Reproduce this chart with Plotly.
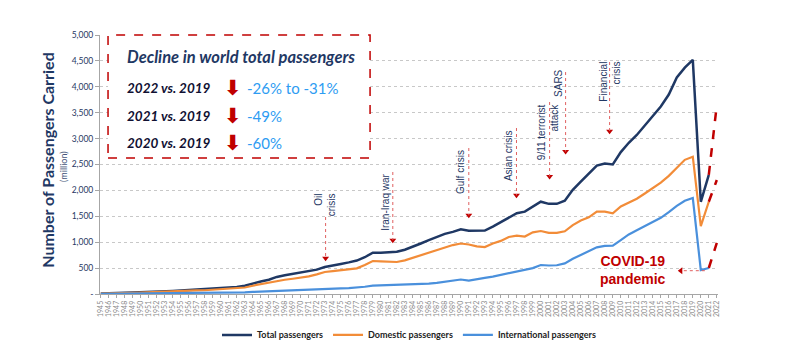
import plotly.graph_objects as go

# ---------------- data (million passengers) ----------------
years = list(range(1945, 2022))
total = [10, 18, 21, 24, 27, 31, 42, 46, 52, 59,
         68, 76, 86, 92, 105, 112, 118, 135, 160, 205,
         240, 275, 330, 360, 385, 411, 431, 470, 520, 545,
         580, 610, 645, 710, 797, 797, 800, 815, 855, 910,
         975, 1040, 1100, 1160, 1200, 1248, 1220, 1220, 1225, 1300,
         1390, 1480, 1560, 1590, 1680, 1782, 1740, 1740, 1800, 2010,
         2170, 2320, 2480, 2520, 2500, 2740, 2920, 3070, 3250, 3440,
         3620, 3850, 4180, 4370, 4520, 1780, 2300]
domestic = [8, 15, 18, 20, 22, 26, 34, 37, 42, 48,
            55, 61, 69, 72, 82, 90, 94, 105, 125, 160,
            190, 215, 255, 275, 295, 315, 340, 380, 425, 440,
            460, 475, 495, 560, 637, 630, 622, 618, 650, 700,
            750, 800, 860, 910, 945, 975, 955, 920, 905, 975,
            1025, 1100, 1125, 1110, 1190, 1216, 1180, 1180, 1210, 1330,
            1420, 1480, 1590, 1590, 1557, 1690, 1770, 1840, 1940, 2040,
            2150, 2280, 2430, 2590, 2650, 1312, 1781]
international = [2, 3, 3, 4, 5, 5, 8, 9, 10, 11,
                 13, 15, 17, 18, 21, 22, 24, 28, 33, 40,
                 45, 50, 57, 60, 66, 75, 80, 88, 95, 100,
                 107, 115, 125, 140, 160, 165, 168, 170, 172, 180,
                 190, 200, 215, 240, 260, 280, 260, 290, 310, 335,
                 365, 395, 430, 460, 500, 560, 550, 555, 590, 680,
                 750, 820, 900, 930, 935, 1040, 1150, 1230, 1310, 1400,
                 1470, 1580, 1700, 1800, 1853, 463, 502]

proj_years = [2021, 2022]
total_proj = [2300, 3650]
domestic_proj = [1781, 2200]
international_proj = [502, 985]

all_years = list(range(1945, 2023))
y_ticks = [0, 500, 1000, 1500, 2000, 2500, 3000, 3500, 4000, 4500, 5000]
y_tick_labels = ["-", "500", "1,000", "1,500", "2,000", "2,500", "3,000", "3,500", "4,000", "4,500", "5,000"]

# events: label, text x, text y, arrow x, arrow top, arrow tip
events = [
    ("Oil<br>crisis", 1973.05, 1718, 1973.1, 1486, 690),
    ("Iran-Iraq war", 1980.5, 1776, 1981.5, 2355, 1040),
    ("Gulf crisis", 1989.95, 2364, 1991.0, 2818, 1520),
    ("Asian crisis", 1995.9, 2663, 1996.96, 3204, 1905),
    ("9/11 terrorist<br>attack", 2001.0, 3120, 2001.1, 3706, 2270),
    ("SARS", 2002.2, 4082, 2003.1, 4285, 2750),
    ("Financial<br>crisis", 2008.6, 4092, 2008.6, 4478, 3140),
]

decline_rows = [("2022 vs. 2019", "-26% to -31%"),
                ("2021 vs. 2019", "-49%"),
                ("2020 vs. 2019", "-60%")]

NAVY = "#1F3864"
ORANGE = "#F28C38"
BLUE = "#4A90DC"
RED = "#C00000"

fig = go.Figure()
fig.add_trace(go.Scatter(x=years, y=total, mode="lines", name="<b>Total passengers</b>",
                         line=dict(color=NAVY, width=2.5)))
fig.add_trace(go.Scatter(x=years, y=domestic, mode="lines", name="<b>Domestic passengers</b>",
                         line=dict(color=ORANGE, width=2.2)))
fig.add_trace(go.Scatter(x=years, y=international, mode="lines", name="<b>International passengers</b>",
                         line=dict(color=BLUE, width=2.2)))
for proj in (total_proj, domestic_proj, international_proj):
    fig.add_trace(go.Scatter(x=proj_years, y=proj, mode="lines", showlegend=False,
                             line=dict(color=RED, width=2.5, dash="dash")))

# event arrows
for label, tx, ty, ax, atop, atip in events:
    fig.add_shape(type="line", x0=ax, x1=ax, y0=atop, y1=atip, xref="x", yref="y",
                  line=dict(color="#E06060", width=1, dash="dot"))
    fig.add_annotation(x=tx, y=ty, text=label, textangle=-90, showarrow=False,
                       align="right", xref="x", yref="y", xanchor="center", yanchor="middle",
                       font=dict(family="Liberation Sans", size=10, color=NAVY))
fig.add_trace(go.Scatter(x=[e[3] for e in events], y=[e[5] for e in events], mode="markers",
                         showlegend=False,
                         marker=dict(symbol="triangle-down", size=6, color=RED)))

# COVID annotation
fig.add_shape(type="line", x0=2020.5, x1=2017.6, y0=450, y1=450, xref="x", yref="y",
              line=dict(color="#E06060", width=1, dash="dot"))
fig.add_trace(go.Scatter(x=[2017.5], y=[450], mode="markers", showlegend=False,
                         marker=dict(symbol="triangle-left", size=6, color=RED)))
fig.add_annotation(x=0.862, y=0.091, xref="paper", yref="paper", showarrow=False,
                   xanchor="center", yanchor="middle",
                   text="<b>COVID-19<br>pandemic</b>", align="center",
                   font=dict(family="Liberation Sans", size=14, color=RED))

# decline box
fig.add_shape(type="rect", xref="paper", yref="paper", x0=0.013, x1=0.437, y0=0.525, y1=1.0,
              line=dict(color=RED, width=1.5, dash="dash"), fillcolor="white", layer="above")
fig.add_annotation(x=0.040, y=0.915, xref="paper", yref="paper", xanchor="left", yanchor="middle",
                   showarrow=False,
                   text="<b><i>Decline in world total passengers</i></b>",
                   font=dict(family="Lato", size=16.5, color=NAVY))
row_y = [0.795, 0.687, 0.583]
for (lab, val), ry in zip(decline_rows, row_y):
    fig.add_annotation(x=0.040, y=ry, xref="paper", yref="paper", xanchor="left", yanchor="middle",
                       showarrow=False,
                       text="<b><i>" + lab + "</i></b>",
                       font=dict(family="Lato", size=13.5, color="#111133"))
    fig.add_annotation(x=0.215, y=ry, xref="paper", yref="paper", xanchor="center", yanchor="middle",
                       showarrow=False,
                       text="<b>⬇</b>", font=dict(family="DejaVu Sans", size=21, color=RED))
    fig.add_annotation(x=0.235, y=ry, xref="paper", yref="paper", xanchor="left", yanchor="middle",
                       showarrow=False,
                       text=val, font=dict(family="Lato", size=15, color="#2E9CF2"))

# y axis title
fig.add_annotation(x=-0.085, y=0.52, xref="paper", yref="paper", textangle=-90, showarrow=False,
                   xanchor="center", yanchor="middle",
                   text="<b>Number of Passengers Carried</b>",
                   font=dict(family="Lato", size=16, color=NAVY))
fig.add_annotation(x=-0.060, y=0.494, xref="paper", yref="paper", textangle=-90, showarrow=False,
                   xanchor="center", yanchor="middle",
                   text="(million)", font=dict(family="Lato", size=9, color="#44557A"))

fig.update_layout(
    width=808, height=344,
    margin=dict(l=100, r=90, t=35, b=50, autoexpand=False),
    plot_bgcolor="white", paper_bgcolor="white",
    font=dict(family="Lato", color=NAVY),
    legend=dict(orientation="h", x=0.5, xanchor="center", y=-0.158, yanchor="middle",
                font=dict(family="Lato", size=9, color="#222222"),
                itemwidth=30, tracegroupgap=0),
    xaxis=dict(range=[1944.9, 2022.15], tickmode="array", tickvals=all_years,
               ticktext=[str(y) for y in all_years], tickangle=-90, automargin=False,
               tickfont=dict(family="Lato", size=7, color="#8A8A8A"),
               showgrid=False, showline=True, linecolor="#A6A6A6", linewidth=1,
               ticks="outside", ticklen=3, tickcolor="#A6A6A6", zeroline=False),
    yaxis=dict(range=[0, 5000], tickmode="array", tickvals=y_ticks, ticktext=y_tick_labels,
               automargin=False,
               tickfont=dict(family="Lato", size=8.5, color=NAVY),
               showgrid=True, gridcolor="#C8C8C8", griddash="dot", gridwidth=1,
               showline=True, linecolor="#A6A6A6", linewidth=1,
               ticks="outside", ticklen=4, tickcolor="#A6A6A6", zeroline=False),
)

fig.write_html("out.html")
